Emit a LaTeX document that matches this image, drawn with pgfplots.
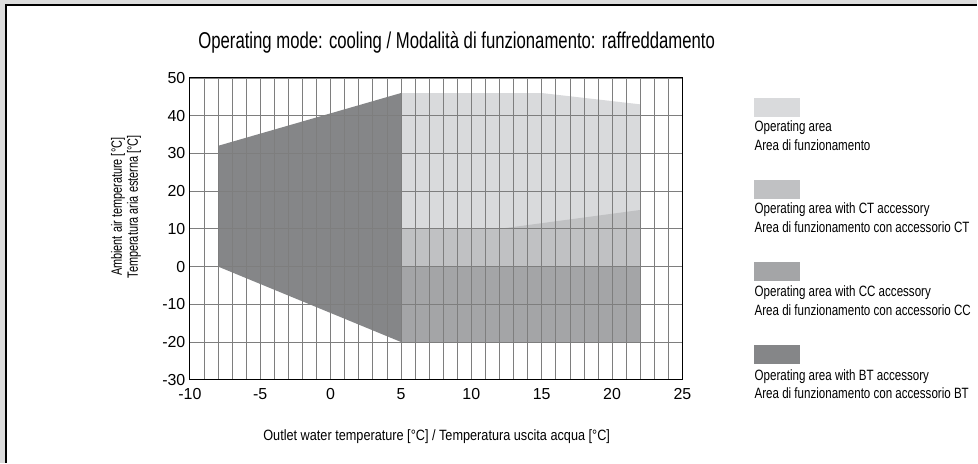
\documentclass[border=0pt]{standalone}
\usepackage{pgfplots}
\pgfplotsset{compat=1.18}
\usepackage{fontspec}
\setmainfont{Liberation Sans}
\newfontfamily\titlef[FakeStretch=0.73]{Liberation Sans}
\newfontfamily\xlabf[FakeStretch=0.85]{Liberation Sans}
\newfontfamily\ylabf[FakeStretch=0.73]{Liberation Sans}
\newfontfamily\legf[FakeStretch=0.775]{Liberation Sans}
\definecolor{opA}{HTML}{D9DADC}
\definecolor{ctA}{HTML}{C0C1C3}
\definecolor{ccA}{HTML}{A4A5A7}
\definecolor{btA}{HTML}{858688}
\definecolor{frameg}{HTML}{DCDCDC}
\definecolor{gridg}{HTML}{7E7E7E}
\begin{document}
\begin{tikzpicture}
\fill[frameg] (0,0) rectangle (978bp,-463bp);
\fill[white] (6bp,-5bp) rectangle (978bp,-463bp);
\draw[black,line width=1.5bp] (6bp,-463bp) -- (6bp,-5bp) -- (978bp,-5bp);
\begin{axis}[
  at={(190bp,-380bp)}, anchor=south west,
  scale only axis, width=493bp, height=302bp,
  xmin=-10, xmax=25, ymin=-30, ymax=50,
  xtick={-10,-5,...,25}, ytick={-30,-20,...,50},
  minor x tick num=4,
  xmajorgrids, xminorgrids, ymajorgrids,
  major grid style={gridg, line width=0.75bp},
  minor grid style={gridg, line width=0.75bp},
  major tick length=0pt, minor tick length=0pt,
  axis on top,
  axis line style={black, line width=1bp},
  tick label style={font=\fontsize{16}{16}\selectfont},
  xticklabel style={yshift=-5bp},
  yticklabel style={xshift=-1bp},
  /pgf/number format/assume math mode=true,
]
% operating area (lightest)
\addplot[fill=opA, draw=none] coordinates {(5,-20) (5,46) (15,46) (22,43) (22,-20)} -- cycle;
% CT accessory
\addplot[fill=ctA, draw=none] coordinates {(5,0) (5,10) (12,10) (22,15) (22,0)} -- cycle;
% CC accessory
\addplot[fill=ccA, draw=none] coordinates {(5,-20) (5,0) (22,0) (22,-20)} -- cycle;
% BT accessory
\addplot[fill=btA, draw=none] coordinates {(-8,0) (-8,32) (5,46) (5,-20)} -- cycle;
\end{axis}
% title
\node[font=\titlef\fontsize{23}{23}\selectfont] at (457bp,-42bp) {Operating mode: cooling / Modalità di funzionamento: raffreddamento};
% x label
\node[font=\xlabf\fontsize{15}{15}\selectfont] at (437bp,-437bp) {Outlet water temperature [°C] / Temperatura uscita acqua [°C]};
% y label
\node[font=\ylabf\fontsize{15}{15}\selectfont, rotate=90] at (118bp,-207bp) {Ambient air temperature [°C]};
\node[font=\ylabf\fontsize{15}{15}\selectfont, rotate=90] at (134bp,-207bp) {Temperatura aria esterna [°C]};
% legend
\fill[opA] (755bp,-98bp) rectangle (801bp,-117bp);
\node[anchor=west, inner sep=0pt, font=\legf\fontsize{15}{15}\selectfont] at (755bp,-128bp) {Operating area};
\node[anchor=west, inner sep=0pt, font=\legf\fontsize{15}{15}\selectfont] at (755bp,-145bp) {Area di funzionamento};
\fill[ctA] (755bp,-180bp) rectangle (801bp,-199bp);
\node[anchor=west, inner sep=0pt, font=\legf\fontsize{15}{15}\selectfont] at (755bp,-210bp) {Operating area with CT accessory};
\node[anchor=west, inner sep=0pt, font=\legf\fontsize{15}{15}\selectfont] at (755bp,-227bp) {Area di funzionamento con accessorio CT};
\fill[ccA] (755bp,-262bp) rectangle (801bp,-281bp);
\node[anchor=west, inner sep=0pt, font=\legf\fontsize{15}{15}\selectfont] at (755bp,-293bp) {Operating area with CC accessory};
\node[anchor=west, inner sep=0pt, font=\legf\fontsize{15}{15}\selectfont] at (755bp,-310bp) {Area di funzionamento con accessorio CC};
\fill[btA] (755bp,-345bp) rectangle (801bp,-364bp);
\node[anchor=west, inner sep=0pt, font=\legf\fontsize{15}{15}\selectfont] at (755bp,-377bp) {Operating area with BT accessory};
\node[anchor=west, inner sep=0pt, font=\legf\fontsize{15}{15}\selectfont] at (755bp,-393bp) {Area di funzionamento con accessorio BT};
\end{tikzpicture}
\end{document}
